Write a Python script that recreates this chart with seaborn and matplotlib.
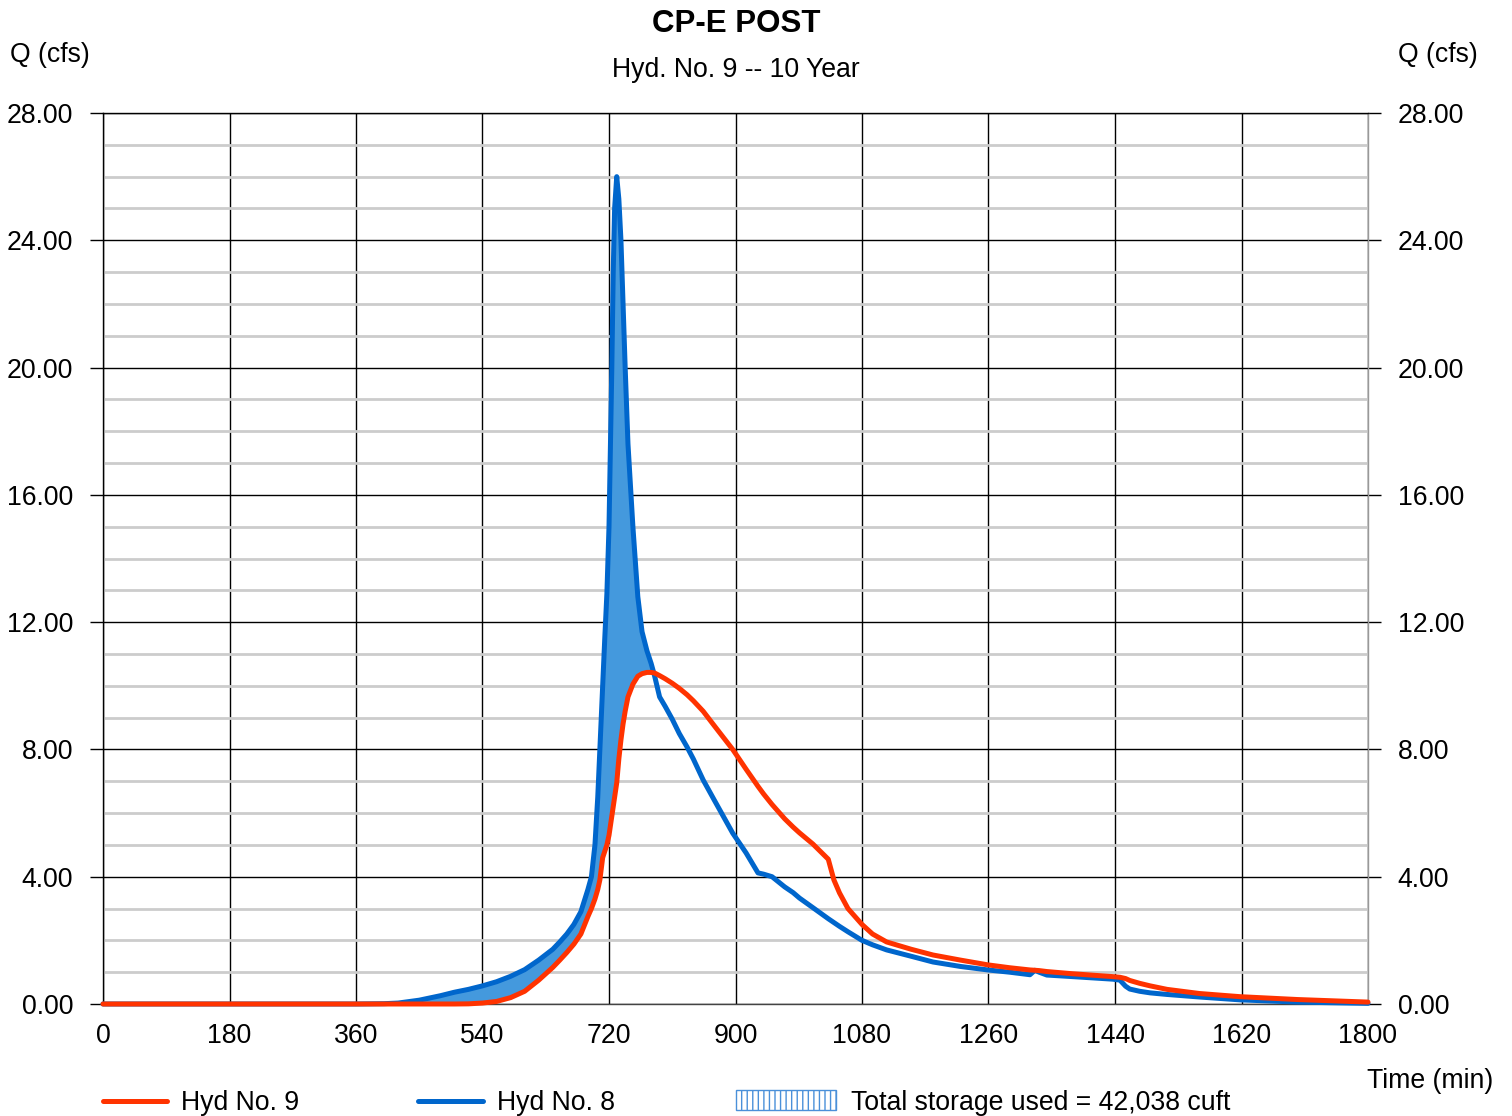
"""Hydrograph chart: inflow vs outflow with storage fill."""

import matplotlib

matplotlib.use("Agg")

import matplotlib.pyplot as plt
import numpy as np
import pandas as pd
import seaborn as sns
from matplotlib.lines import Line2D
from matplotlib.patches import Rectangle

# time (min) shared by both hydrographs
time_min = [
    0, 360, 400, 420, 450, 480, 500, 520, 540, 560, 580, 600, 620, 640, 650,
    660, 670, 680, 690, 695, 700, 704, 707, 711, 714, 717, 720, 724, 726, 728,
    731, 734, 737, 740, 743, 747, 754, 761, 767, 774, 780, 785, 792, 800, 810,
    820, 831, 840, 854, 870, 896, 915, 932, 940, 952, 970, 982, 991, 1010, 1032,
    1040, 1048, 1060, 1080, 1095, 1115, 1150, 1181, 1220, 1259, 1290, 1319,
    1326, 1332, 1343, 1380, 1437, 1447, 1455, 1461, 1475, 1490, 1514, 1560,
    1618, 1700, 1800,
]
# Hyd No. 8 (inflow)
hyd8_q = [
    0, 0, 0.01, 0.03, 0.12, 0.26, 0.37, 0.46, 0.57, 0.7, 0.87, 1.08, 1.38, 1.72, 1.95,
    2.2, 2.5, 2.9, 3.6, 4.0, 5.0, 6.5, 8.0, 10.0, 11.5, 12.9, 15.0, 20.0, 23.0, 25.0,
    26.0, 25.3, 24.0, 22.0, 20.0, 17.6, 15.0, 12.8, 11.7, 11.1, 10.7, 10.3, 9.65, 9.35, 8.95,
    8.5, 8.08, 7.7, 7.04, 6.4, 5.37, 4.75, 4.12, 4.08, 4.0, 3.68, 3.5, 3.33, 3.03, 2.68,
    2.56, 2.44, 2.27, 2.0, 1.86, 1.7, 1.5, 1.32, 1.18, 1.07, 1.0, 0.92,
    1.06, 1.0, 0.91, 0.86, 0.78, 0.75, 0.56, 0.47, 0.4, 0.35, 0.3, 0.22,
    0.13, 0.06, 0.02,
]
# Hyd No. 9 (outflow)
hyd9_q = [
    0, 0, 0, 0, 0, 0, 0, 0.005, 0.03, 0.08, 0.2, 0.4, 0.75, 1.15, 1.38,
    1.62, 1.88, 2.2, 2.75, 3.0, 3.3, 3.6, 3.9, 4.6, 4.8, 5.0, 5.3, 5.9, 6.2, 6.5,
    6.95, 7.7, 8.3, 8.8, 9.2, 9.65, 10.05, 10.3, 10.38, 10.42, 10.42, 10.4, 10.32, 10.22, 10.08,
    9.92, 9.72, 9.53, 9.2, 8.74, 8.0, 7.38, 6.84, 6.6, 6.27, 5.82, 5.56, 5.38, 5.03, 4.55,
    3.9, 3.49, 3.0, 2.5, 2.2, 1.95, 1.72, 1.54, 1.38, 1.23, 1.14, 1.07,
    1.06, 1.05, 1.02, 0.95, 0.86, 0.84, 0.8, 0.74, 0.65, 0.57, 0.46, 0.33,
    0.23, 0.14, 0.06,
]

x_ticks = list(range(0, 1801, 180))
y_ticks = list(range(0, 29, 4))
y_minor = list(range(0, 29, 1))

title = "CP-E POST"
subtitle = "Hyd. No. 9 -- 10 Year"
storage_text = "Total storage used = 42,038 cuft"

RED = "#ff3300"
BLUE = "#0066cc"
FILL = "#4499dd"
W, H = 1512, 1116

sns.set_style("white")
plt.rcParams["font.family"] = ["Liberation Sans", "DejaVu Sans"]
plt.rcParams["text.color"] = "black"
plt.rcParams["xtick.color"] = "black"
plt.rcParams["ytick.color"] = "black"
FS = 19.2
LW = 3.6

frame = pd.DataFrame({"time": time_min, "hyd8": hyd8_q, "hyd9": hyd9_q})

fig = plt.figure(figsize=(W / 100, H / 100), dpi=100)
ax = fig.add_axes([103 / W, 1 - 1004 / H, 1265 / W, 891 / H])

t = frame["time"].to_numpy()
q8 = frame["hyd8"].to_numpy()
q9 = frame["hyd9"].to_numpy()
ax.fill_between(t, q9, q8, where=q8 >= q9, interpolate=True, color=FILL, lw=0, zorder=2)

sns.lineplot(data=frame, x="time", y="hyd8", color=BLUE, linewidth=LW, ax=ax,
             sort=False, zorder=3, clip_on=False, solid_joinstyle="round")
sns.lineplot(data=frame, x="time", y="hyd9", color=RED, linewidth=LW, ax=ax,
             sort=False, zorder=4, clip_on=False, solid_joinstyle="round")

ax.set_xlim(0, 1800)
ax.set_ylim(0, 28)
ax.set_xticks(x_ticks)
ax.set_xticklabels([str(v) for v in x_ticks])
ax.set_yticks(y_ticks)
ax.set_yticks(y_minor, minor=True)
ax.set_yticklabels([f"{v:.2f}" for v in y_ticks])
ax.set_xlabel("")
ax.set_ylabel("")
ax.set_axisbelow(True)
ax.grid(which="minor", axis="y", color="#cccccc", linewidth=2.0)
ax.grid(which="major", axis="both", color="black", linewidth=1.0)

ax.tick_params(axis="y", which="major", left=True, right=True, labelleft=True,
               labelright=True, length=9.5, width=1.0, pad=12, labelsize=FS,
               colors="black")
ax.tick_params(axis="y", which="minor", length=0)
ax.tick_params(axis="x", length=0, pad=14, labelsize=FS, colors="black")

for side in ["left", "top"]:
    ax.spines[side].set_color("black")
    ax.spines[side].set_linewidth(1.0)
ax.spines["bottom"].set_color("#444444")
ax.spines["bottom"].set_linewidth(1.0)
ax.spines["right"].set_color("#999999")
ax.spines["right"].set_linewidth(1.0)

# titles and axis captions
fig.text(736 / W, 1 - 24 / H, title, ha="center", va="center", fontsize=22.5,
         fontweight="bold", color="black")
fig.text(736 / W, 1 - 70 / H, subtitle, ha="center", va="center", fontsize=FS)
fig.text(10 / W, 1 - 55 / H, "Q (cfs)", ha="left", va="center", fontsize=FS)
fig.text(1398 / W, 1 - 55 / H, "Q (cfs)", ha="left", va="center", fontsize=FS)
fig.text(1493 / W, 1 - 1081 / H, "Time (min)", ha="right", va="center", fontsize=FS)

# legend row along the bottom
ly = 1 - 1101 / H
ty = 1 - 1103 / H
fig.add_artist(Line2D([103 / W, 167 / W], [ly, ly], color=RED, linewidth=LW,
                      solid_capstyle="round", transform=fig.transFigure))
fig.text(181 / W, ty, "Hyd No. 9", ha="left", va="center", fontsize=FS)
fig.add_artist(Line2D([418 / W, 483 / W], [ly, ly], color=BLUE, linewidth=LW,
                      solid_capstyle="round", transform=fig.transFigure))
fig.text(497 / W, ty, "Hyd No. 8", ha="left", va="center", fontsize=FS)
fig.add_artist(Rectangle((736 / W, 1 - 1110 / H), 100 / W, 20 / H,
                         facecolor="white", edgecolor="#4a90d9", hatch="|||",
                         linewidth=1.0, transform=fig.transFigure))
fig.text(851 / W, ty, storage_text, ha="left", va="center", fontsize=FS)

fig.savefig("out.png", dpi=100)
plt.close(fig)
